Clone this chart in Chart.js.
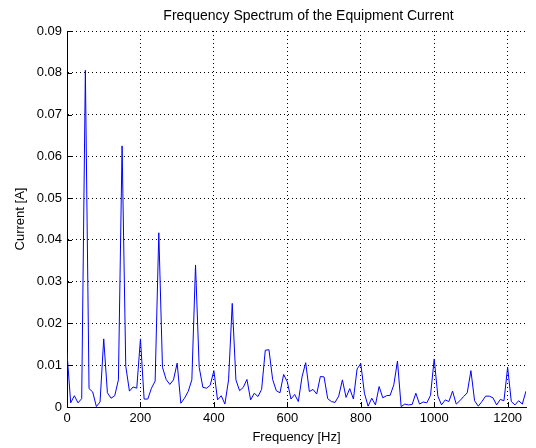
<!DOCTYPE html>
<html>
<head>
<meta charset="utf-8">
<script src="https://cdn.jsdelivr.net/npm/chart.js@4/dist/chart.umd.min.js"></script>
<style>
  html, body { margin: 0; padding: 0; background: #ffffff; }
  canvas { display: block; }
</style>
</head>
<body>
<canvas id="spectrum" width="536" height="448"></canvas>
<script>
// Frequency bins of the spectrum [Hz]
const frequencies = [
  0, 10, 20, 30, 40, 50, 60, 70, 80, 90,
  100, 110, 120, 130, 140, 150, 160, 170, 180, 190,
  200, 210, 220, 230, 240, 250, 260, 270, 280, 290,
  300, 310, 320, 330, 340, 350, 360, 370, 380, 390,
  400, 410, 420, 430, 440, 450, 460, 470, 480, 490,
  500, 510, 520, 530, 540, 550, 560, 570, 580, 590,
  600, 610, 620, 630, 640, 650, 660, 670, 680, 690,
  700, 710, 720, 730, 740, 750, 760, 770, 780, 790,
  800, 810, 820, 830, 840, 850, 860, 870, 880, 890,
  900, 910, 920, 930, 940, 950, 960, 970, 980, 990,
  1000, 1010, 1020, 1030, 1040, 1050, 1060, 1070, 1080, 1090,
  1100, 1110, 1120, 1130, 1140, 1150, 1160, 1170, 1180, 1190,
  1200, 1210, 1220, 1230, 1240, 1250
];

// Current amplitude per bin [A]
const currentAmps = [
  0.0130, 0.0010, 0.0027, 0.0010, 0.0020, 0.0806, 0.0044, 0.0036, 0.0001, 0.0012,
  0.0163, 0.0034, 0.0021, 0.0027, 0.0065, 0.0625, 0.0098, 0.0038, 0.0048, 0.0045,
  0.0163, 0.0019, 0.0019, 0.0045, 0.0062, 0.0417, 0.0095, 0.0066, 0.0054, 0.0065,
  0.0105, 0.0009, 0.0021, 0.0037, 0.0065, 0.0340, 0.0095, 0.0047, 0.0045, 0.0052,
  0.0087, 0.0017, 0.0027, 0.0007, 0.0065, 0.0248, 0.0065, 0.0039, 0.0047, 0.0066,
  0.0017, 0.0033, 0.0025, 0.0042, 0.0136, 0.0137, 0.0066, 0.0039, 0.0034, 0.0078,
  0.0060, 0.0019, 0.0030, 0.0013, 0.0072, 0.0106, 0.0037, 0.0042, 0.0031, 0.0073,
  0.0072, 0.0020, 0.0013, 0.0011, 0.0026, 0.0065, 0.0023, 0.0044, 0.0019, 0.0091,
  0.0104, 0.0033, 0.0002, 0.0021, 0.0005, 0.0049, 0.0022, 0.0027, 0.0028, 0.0053,
  0.0110, 0.0001, 0.0007, 0.0005, 0.0006, 0.0033, 0.0007, 0.0012, 0.0010, 0.0028,
  0.0115, 0.0026, 0.0005, 0.0017, 0.0013, 0.0038, 0.0007, 0.0015, 0.0025, 0.0034,
  0.0087, 0.0015, 0.0002, 0.0013, 0.0026, 0.0026, 0.0022, 0.0005, 0.0018, 0.0015,
  0.0095, 0.0013, 0.0005, 0.0015, 0.0007, 0.0038
];

// Axis tick positions
const xTickValues = [0, 200, 400, 600, 800, 1000, 1200];
const yTickValues = [0, 0.01, 0.02, 0.03, 0.04, 0.05, 0.06, 0.07, 0.08, 0.09];

const chartTitle = 'Frequency Spectrum of the Equipment Current';

const points = frequencies.map((f, i) => ({ x: f, y: currentAmps[i] }));

const FONT = 'Liberation Sans, Arial, Helvetica, sans-serif';

// Short inward tick marks on the left and bottom axes
const inwardTicks = {
  id: 'inwardTicks',
  afterDraw(chart) {
    const { ctx, chartArea, scales } = chart;
    ctx.save();
    ctx.strokeStyle = '#000';
    ctx.lineWidth = 1;
    ctx.beginPath();
    scales.x.ticks.forEach(t => {
      const px = Math.round(scales.x.getPixelForValue(t.value)) + 0.5;
      ctx.moveTo(px, chartArea.bottom);
      ctx.lineTo(px, chartArea.bottom - 5);
    });
    scales.y.ticks.forEach(t => {
      const py = Math.round(scales.y.getPixelForValue(t.value)) + 0.5;
      ctx.moveTo(chartArea.left, py);
      ctx.lineTo(chartArea.left + 5, py);
    });
    ctx.stroke();
    ctx.restore();
  }
};

// Title centred a little right of the plot centre, above the axes
const axesTitle = {
  id: 'axesTitle',
  afterDraw(chart) {
    const { ctx, chartArea } = chart;
    ctx.save();
    ctx.fillStyle = '#000';
    ctx.font = '14px ' + FONT;
    ctx.textAlign = 'center';
    ctx.textBaseline = 'alphabetic';
    ctx.fillText(chartTitle, (chartArea.left + chartArea.right) / 2 + 12, chartArea.top - 11);
    ctx.restore();
  }
};

new Chart(document.getElementById('spectrum'), {
  type: 'line',
  data: {
    datasets: [{
      data: points,
      borderColor: '#0000ff',
      borderWidth: 1,
      pointRadius: 0,
      tension: 0,
      fill: false
    }]
  },
  options: {
    responsive: false,
    animation: false,
    devicePixelRatio: 1,
    layout: { padding: { left: 0, right: 10, top: 31, bottom: 0 } },
    plugins: {
      legend: { display: false },
      tooltip: { enabled: false },
      title: { display: false }
    },
    scales: {
      x: {
        type: 'linear',
        min: 0,
        max: 1250,
        afterBuildTicks(scale) {
          scale.ticks = xTickValues.map(v => ({ value: v }));
        },
        afterFit(scale) { scale.height = 41; },
        ticks: {
          color: '#000',
          font: { family: FONT, size: 13 },
          padding: 4,
          maxRotation: 0,
          callback: v => String(v)
        },
        grid: {
          color: '#000',
          lineWidth: 1,
          drawTicks: false
        },
        border: { display: true, color: '#000', width: 1, dash: [1, 3] },
        title: {
          display: true,
          text: 'Frequency [Hz]',
          color: '#000',
          font: { family: FONT, size: 13 },
          padding: { top: 0, bottom: 3 }
        }
      },
      y: {
        type: 'linear',
        min: 0,
        max: 0.09,
        afterBuildTicks(scale) {
          scale.ticks = yTickValues.map(v => ({ value: v }));
        },
        afterFit(scale) { scale.width = 67; },
        ticks: {
          color: '#000',
          font: { family: FONT, size: 13 },
          padding: 5,
          callback: v => (v === 0 ? '0' : v.toFixed(2))
        },
        grid: {
          color: '#000',
          lineWidth: 1,
          drawTicks: false
        },
        border: { display: true, color: '#000', width: 1, dash: [1, 3] },
        title: {
          display: true,
          text: 'Current [A]',
          color: '#000',
          font: { family: FONT, size: 13 },
          padding: { top: 13, bottom: 0 }
        }
      }
    }
  },
  plugins: [inwardTicks, axesTitle]
});
</script>
</body>
</html>
